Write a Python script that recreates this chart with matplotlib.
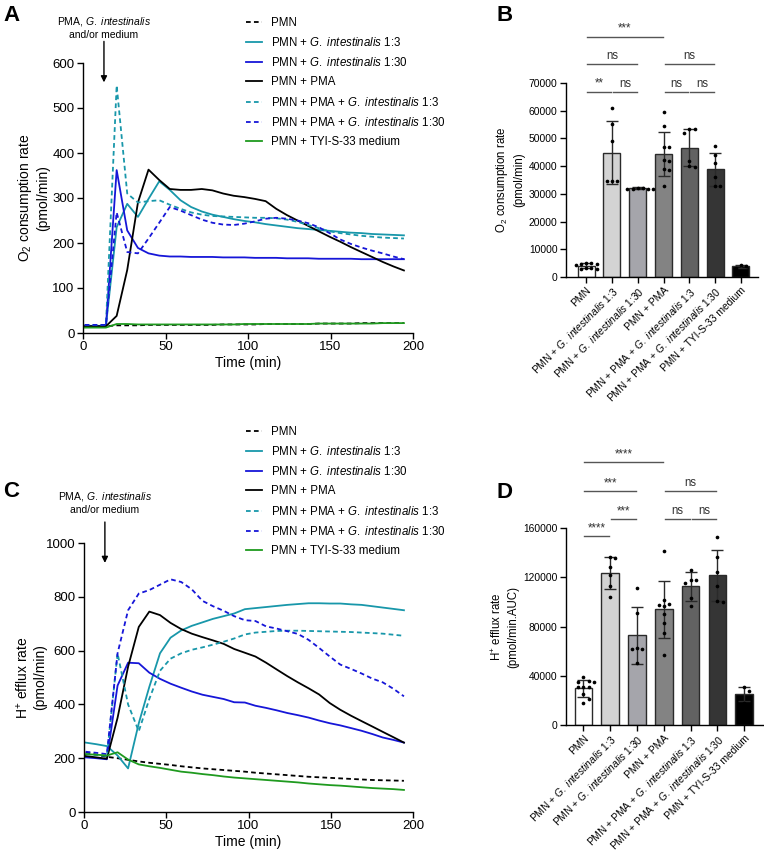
import numpy as np
import matplotlib
matplotlib.use("Agg")
import matplotlib.pyplot as plt

plt.rcParams['font.family'] = ['Liberation Sans', 'DejaVu Sans']
plt.rcParams['mathtext.fontset'] = 'custom'
plt.rcParams['mathtext.rm'] = 'Liberation Sans'
plt.rcParams['mathtext.it'] = 'Liberation Sans:italic'
plt.rcParams['axes.linewidth'] = 1.0

# ---- data ----
GI = r'$\it{G.}$ $\it{intestinalis}$'
labels = ['PMN', 'PMN + ' + GI + ' 1:3', 'PMN + ' + GI + ' 1:30', 'PMN + PMA',
          'PMN + PMA + ' + GI + ' 1:3', 'PMN + PMA + ' + GI + ' 1:30', 'PMN + TYI-S-33 medium']

t = [1.0, 7.5, 13.9, 20.4, 26.8, 33.3, 39.7, 46.2, 52.6, 59.1, 65.5, 72.0, 78.4, 84.9, 91.3,
     97.8, 104.2, 110.7, 117.1, 123.6, 130.0, 136.5, 142.9, 149.4, 155.8, 162.3, 168.7, 175.2,
     181.6, 188.1, 194.5]

# O2 consumption rate (pmol/min)
ocr_pmn = [15, 15, 15, 17, 17, 17, 18, 18, 18, 18, 18, 18, 18, 19, 19, 19, 19, 20, 20, 20, 20, 20, 21, 21, 21, 21, 22, 22, 22, 22, 22]
ocr_g13 = [16, 16, 16, 235, 287, 258, 298, 337, 318, 295, 280, 270, 263, 258, 253, 249, 246, 242, 239, 236, 233, 231, 229, 227, 225, 223, 222, 220, 219, 218, 217]
ocr_g130 = [15, 15, 15, 362, 228, 189, 177, 172, 170, 170, 169, 169, 169, 168, 168, 168, 167, 167, 167, 166, 166, 166, 165, 165, 165, 165, 164, 164, 164, 164, 164]
ocr_pma = [15, 15, 15, 38, 140, 290, 363, 340, 320, 318, 318, 320, 317, 310, 305, 302, 298, 293, 276, 262, 250, 238, 226, 214, 203, 191, 180, 169, 158, 148, 139]
ocr_pma_g13 = [18, 18, 18, 550, 310, 290, 293, 295, 285, 276, 268, 263, 260, 259, 258, 257, 256, 256, 255, 252, 247, 240, 233, 226, 222, 219, 216, 214, 212, 211, 210]
ocr_pma_g130 = [18, 18, 18, 268, 180, 177, 210, 245, 280, 272, 262, 252, 245, 241, 240, 243, 248, 254, 256, 254, 250, 244, 235, 222, 208, 198, 190, 183, 177, 170, 164]
ocr_tyi = [12, 12, 12, 20, 20, 19, 19, 19, 19, 19, 19, 19, 19, 19, 19, 20, 20, 20, 20, 20, 20, 20, 21, 21, 21, 21, 21, 21, 22, 22, 22]

# H+ efflux rate (pmol/min)
ecar_pmn = [222, 213, 205, 200, 194, 188, 183, 179, 175, 170, 166, 162, 159, 156, 153, 150, 146, 143, 140, 137, 134, 131, 129, 127, 125, 123, 121, 119, 118, 117, 116]
ecar_g13 = [258, 252, 245, 210, 162, 330, 465, 590, 648, 675, 692, 705, 718, 728, 738, 754, 758, 762, 766, 770, 773, 776, 776, 775, 775, 772, 770, 765, 760, 755, 750]
ecar_g130 = [203, 200, 196, 470, 555, 553, 518, 495, 477, 462, 448, 436, 428, 420, 408, 407, 395, 387, 378, 368, 360, 351, 340, 330, 322, 312, 302, 290, 277, 268, 258]
ecar_pma = [208, 203, 198, 350, 540, 688, 745, 732, 703, 680, 663, 650, 638, 625, 606, 592, 578, 555, 530, 505, 482, 460, 437, 405, 380, 358, 338, 318, 298, 278, 258]
ecar_pma_g13 = [215, 212, 208, 590, 400, 300, 420, 525, 570, 590, 603, 612, 622, 633, 645, 660, 667, 670, 673, 674, 674, 673, 672, 671, 670, 669, 667, 665, 663, 659, 655]
ecar_pma_g130 = [224, 220, 215, 590, 750, 812, 825, 845, 865, 855, 828, 785, 765, 748, 728, 713, 710, 690, 682, 672, 662, 640, 610, 578, 548, 532, 515, 496, 482, 458, 430]
ecar_tyi = [215, 213, 210, 222, 195, 177, 170, 164, 157, 150, 146, 141, 137, 132, 128, 125, 122, 119, 116, 113, 110, 106, 103, 100, 98, 95, 92, 89, 87, 85, 82]

# B: O2 consumption AUC per group
b_mean = [4000, 44800, 32000, 44400, 46600, 38800, 3800]
b_sd = [900, 11400, 400, 8000, 6700, 6000, 700]
b_pts = [[5200, 5000, 4800, 4600, 4300, 3400, 3200, 3000, 2800],
         [61000, 55300, 48900, 34800, 34600, 34700],
         [32200, 32000, 31900, 31800, 31700, 31600],
         [59700, 54600, 47000, 46800, 42200, 42000, 38800, 38500, 33000],
         [53500, 53300, 51800, 42000, 40200, 39800],
         [47300, 44200, 41000, 36000, 32800, 32700],
         [4300, 4100, 3300]]
b_sig = [(0, 1, 66800, '**'), (1, 2, 66800, 'ns'), (3, 4, 66800, 'ns'), (4, 5, 66800, 'ns'),
         (0, 2, 76800, 'ns'), (3, 5, 76800, 'ns'), (0, 3, 86600, '***')]

# D: H+ efflux AUC per group
d_mean = [29700, 123400, 72900, 94000, 112600, 121500, 25100]
d_sd = [6700, 13300, 23200, 23100, 11500, 20600, 5900]
d_pts = [[39000, 35500, 35000, 35200, 31000, 30800, 30500, 25000, 21000, 18000],
         [136500, 136000, 128000, 122000, 113000, 104000],
         [111000, 91000, 62500, 62000, 61500, 50000],
         [141700, 101500, 98000, 97500, 97000, 90500, 82500, 75000, 56700],
         [125500, 118000, 117500, 115500, 103500, 97000],
         [153000, 136500, 124000, 113000, 101000, 100000],
         [30500, 27500, 17500]]
d_sig = [(0, 1, 153300, '****'), (1, 2, 167000, '***'), (3, 4, 167000, 'ns'), (4, 5, 167000, 'ns'),
         (0, 2, 190000, '***'), (3, 5, 190000, 'ns'), (0, 3, 213500, '****')]

# ---- styles ----
teal = '#1897aa'
blue = '#1616d8'
green = '#1f9a1f'
line_colors = ['black', teal, blue, 'black', teal, blue, green]
dash = (0, (2.6, 1.8))
line_styles = [dash, '-', '-', '-', dash, dash, '-']
bar_colors = ['#ffffff', '#d3d3d3', '#a5a5ab', '#838383', '#626262', '#353535', '#000000']

W, H = 764, 855
fig = plt.figure(figsize=(W / 100, H / 100), dpi=100)


def frac(x0, y0, x1, y1):
    # pixel box (left, top, right, bottom) -> figure fraction rect
    return [x0 / W, 1 - y1 / H, (x1 - x0) / W, (y1 - y0) / H]


def time_panel(rect, series, ymax, ystep, ylabel, label_x, leg_top, arrow, text_y):
    ax = fig.add_axes(rect)
    handles = []
    for vals, lab, c, ls in zip(series, labels, line_colors, line_styles):
        h, = ax.plot(t, vals, color=c, ls=ls, lw=1.3, label=lab)
        handles.append(h)
    ax.set_xlim(0, 200)
    ax.set_ylim(0, ymax)
    ax.set_xticks([0, 50, 100, 150, 200])
    ax.set_yticks(np.arange(0, ymax + 1, ystep))
    for s in ['top', 'right']:
        ax.spines[s].set_visible(False)
    ax.spines['left'].set_bounds(0, ymax)
    ax.tick_params(direction='out', length=4, width=1, labelsize=9.5, pad=2)
    ax.set_xlabel('Time (min)', fontsize=10, labelpad=2)
    ax.set_ylabel(ylabel, fontsize=10, linespacing=1.2)
    ax.yaxis.set_label_coords(label_x, 0.5)
    ax.annotate('', xy=(12.7, arrow[1]), xytext=(12.7, arrow[0]), annotation_clip=False,
                arrowprops=dict(arrowstyle='-|>', color='black', lw=1, mutation_scale=9,
                                shrinkA=0, shrinkB=0))
    ax.text(12.7, text_y, 'PMA, ' + GI + '\nand/or medium', ha='center', va='center',
            fontsize=7.5, linespacing=1.25, clip_on=False)
    fig.legend(handles=handles, loc='upper left', bbox_to_anchor=(246 / W, 1 - leg_top / H),
               frameon=False, fontsize=8.3, handlelength=1.35, handletextpad=0.8,
               labelspacing=0.62, borderaxespad=0, borderpad=0)
    return ax


def swarm_x(ax, x0, vals, dpx=5.2):
    tr = ax.transData
    placed = []
    xs = []
    cands = [0.0]
    for k in range(1, 8):
        cands += [k * dpx, -k * dpx]
    for v in vals:
        px, py = tr.transform((x0, v))
        for off in cands:
            if all((px + off - qx) ** 2 + (py - qy) ** 2 >= (dpx * 0.95) ** 2 for qx, qy in placed):
                break
        placed.append((px + off, py))
        xs.append(tr.inverted().transform((px + off, py))[0])
    return xs


def bar_panel(rect, means, sds, pts, xlim, ymax, ystep, ylabel, sigs):
    ax = fig.add_axes(rect)
    x = np.arange(len(means))
    ax.bar(x, means, width=0.66, color=bar_colors, edgecolor='#2a2a2a', linewidth=1, zorder=2)
    ax.errorbar(x, means, yerr=sds, fmt='none', ecolor='#2a2a2a', elinewidth=1, capsize=4,
                capthick=1, zorder=3)
    ax.set_xlim(*xlim)
    ax.set_ylim(0, ymax)
    ax.set_yticks(np.arange(0, ymax + 1, ystep))
    for i, vals in enumerate(pts):
        ax.scatter(swarm_x(ax, i, vals), vals, s=7, color='black', linewidths=0, zorder=4,
                   clip_on=False)
    ax.set_xticks(x)
    ax.set_xticklabels(labels, rotation=45, ha='right', rotation_mode='anchor', fontsize=7.4)
    for s in ['top', 'right']:
        ax.spines[s].set_visible(False)
    ax.spines['left'].set_bounds(0, ymax)
    ax.tick_params(direction='out', length=4, width=1, labelsize=7.4, pad=2)
    ax.set_ylabel(ylabel, fontsize=8.3, labelpad=3, linespacing=1.3)
    for i, j, y, txt in sigs:
        ax.plot([i + 0.04, j - 0.04], [y, y], color='#555555', lw=1, clip_on=False)
        ax.annotate(txt, xy=((i + j) / 2, y), xytext=(0, 1.5), textcoords='offset points',
                    ha='center', va='bottom', fontsize=8.3, color='#333333', annotation_clip=False)
    return ax


time_panel(frac(83, 63, 413, 333),
           [ocr_pmn, ocr_g13, ocr_g130, ocr_pma, ocr_pma_g13, ocr_pma_g130, ocr_tyi],
           600, 100, 'O$_2$ consumption rate\n(pmol/min)', -0.1, 17, (648, 557), 680)
time_panel(frac(84, 543, 413, 812),
           [ecar_pmn, ecar_g13, ecar_g130, ecar_pma, ecar_pma_g13, ecar_pma_g130, ecar_tyi],
           1000, 200, 'H$^{+}$ efflux rate\n(pmol/min)', -0.112, 426, (1078, 926), 1149)

bar_panel(frac(566, 83, 758, 277), b_mean, b_sd, b_pts, (-0.78, 6.66), 70000, 10000,
          'O$_2$ consumption rate\n(pmol/min)', b_sig)
bar_panel(frac(566, 528, 763, 725), d_mean, d_sd, d_pts, (-0.65, 6.7), 160000, 40000,
          'H$^{+}$ efflux rate\n(pmol/min.AUC)', d_sig)

for letter, px, py in [('A', 3, 21), ('B', 497, 21), ('C', 3, 497), ('D', 497, 498)]:
    fig.text(px / W, 1 - py / H, letter, fontsize=16, fontweight='bold', ha='left', va='baseline')

fig.savefig('out.png', dpi=100)
